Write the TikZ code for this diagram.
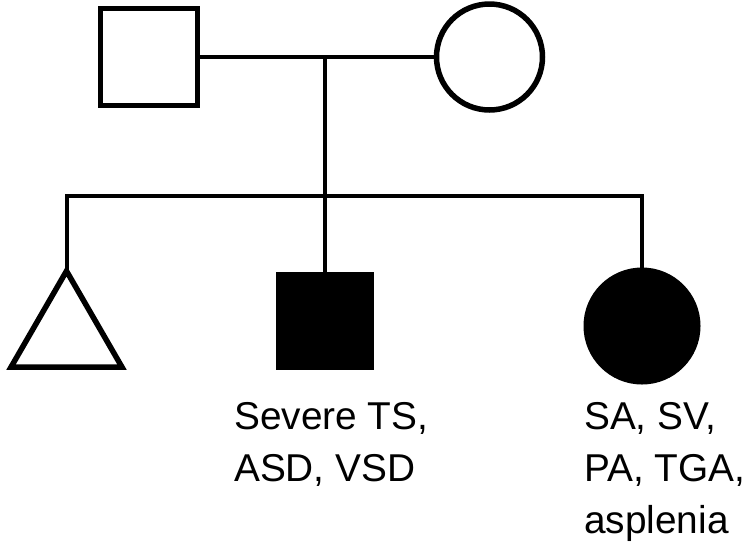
\documentclass[tikz,border=0pt]{standalone}
\usepackage{fontspec}
\setmainfont{Liberation Sans}
\usetikzlibrary{shapes.geometric}
\begin{document}
\begin{tikzpicture}[x=1pt,y=-1pt,
  conn/.style={line width=4pt},
  openshape/.style={draw,line width=5.5pt,inner sep=0pt,outer sep=0pt},
  filledshape/.style={fill=black,draw=black,line width=1pt,inner sep=0pt,outer sep=0pt},
  label/.style={anchor=north west,inner sep=0pt,align=left,font=\fontsize{38.8}{52}\selectfont}]
\useasboundingbox (0,0) rectangle (750,547);
% parents
\node[openshape,rectangle,minimum size=97pt] (father) at (149,57) {};
\node[openshape,circle,minimum size=106pt] (mother) at (489.5,57) {};
% children
\node[openshape,regular polygon,regular polygon sides=3,minimum size=128pt] (tri) at (66.5,335) {};
\node[filledshape,rectangle,minimum size=97pt] (son) at (325,321) {};
\node[filledshape,circle,minimum size=116pt] (daughter) at (642,326) {};
% connector points
\coordinate (m) at (325,57);
\coordinate (sL) at (66.5,196);
\coordinate (sR) at (642,196);
% connectors
\draw[conn] (father.east) -- (mother.west);
\draw[conn] (m) -- (son.north);
\draw[conn,line join=miter] (tri.corner 1) -- (sL) -- (sR) -- (daughter.north);
% labels
\node[label] (sonlab) at (234,402.5) {Severe TS,\\ASD, VSD};
\node[label] (dlab) at (584,402.5) {SA, SV,\\PA, TGA,\\asplenia};
\end{tikzpicture}
\end{document}
